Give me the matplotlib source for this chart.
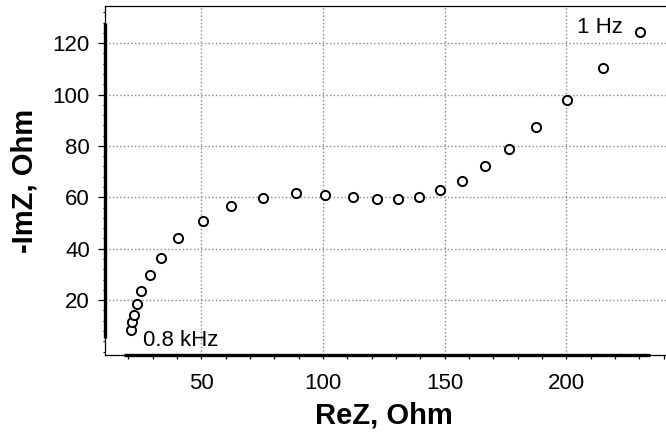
import matplotlib
matplotlib.use("Agg")
import matplotlib.pyplot as plt
from matplotlib.ticker import MultipleLocator

plt.rcParams['font.family'] = ['Liberation Sans', 'DejaVu Sans']

# Nyquist data, high frequency (0.8 kHz) -> low frequency (1 Hz)
re_z = [20.9, 21.6, 22.3, 23.5, 25.4, 28.7, 33.3, 40.5, 50.5, 62.3,
        75.4, 88.8, 101.0, 112.4, 122.3, 130.9, 139.4, 148.1, 157.3, 166.5,
        176.6, 187.6, 200.3, 214.9, 230.5]
im_z = [8.4, 11.4, 14.2, 18.5, 23.5, 29.6, 36.3, 44.0, 50.7, 56.6,
        59.6, 61.6, 60.9, 60.2, 59.3, 59.3, 60.2, 62.8, 66.5, 72.2,
        78.9, 87.2, 97.9, 110.2, 124.4]

x_ticks = [50, 100, 150, 200]
y_ticks = [20, 40, 60, 80, 100, 120]

fig = plt.figure(figsize=(6.66, 4.36), dpi=100)
ax = fig.add_axes([0.158, 0.186, 0.842, 0.800])

ax.plot(re_z, im_z, 'o', ms=6.6, mfc='white', mec='black', mew=1.4, zorder=5)

ax.set_xlim(10.5, 241)
ax.set_ylim(-1.3, 134.4)
ax.set_xticks(x_ticks)
ax.set_yticks(y_ticks)
ax.xaxis.set_minor_locator(MultipleLocator(10))
ax.yaxis.set_minor_locator(MultipleLocator(4))

ax.grid(True, which='major', color='#888888', linestyle=':', linewidth=1.0)

for side in ['left', 'bottom', 'top']:
    ax.spines[side].set_linewidth(0.9)
ax.spines['right'].set_visible(False)

# thick range frame over the data span
ax.plot([min(re_z) - 2.6, max(re_z) + 3.8], [0, 0], color='black', lw=2.4,
        transform=ax.get_xaxis_transform(), clip_on=False, solid_capstyle='butt')
ax.plot([0, 0], [min(im_z) - 3.1, max(im_z) + 3.4], color='black', lw=2.4,
        transform=ax.get_yaxis_transform(), clip_on=False, solid_capstyle='butt')

ax.tick_params(axis='x', which='both', direction='out', length=3, width=0.9,
               labelsize=16, pad=10)
ax.tick_params(axis='y', which='major', direction='out', length=5, width=0.9,
               labelsize=16, pad=6)
ax.tick_params(axis='y', which='minor', direction='out', length=1.5, width=0.8)

ax.set_xlabel('ReZ, Ohm', fontsize=21, fontweight='bold')
ax.xaxis.set_label_coords(0.497, -0.135)
ax.set_ylabel('-ImZ, Ohm', fontsize=21, fontweight='bold')
ax.yaxis.set_label_coords(-0.119, 0.50)

ax.text(26.1, 2.1, '0.8 kHz', fontsize=16, ha='left', va='baseline')
ax.text(204.6, 123.8, '1 Hz', fontsize=16, ha='left', va='baseline')

fig.savefig('out.png', dpi=100)
